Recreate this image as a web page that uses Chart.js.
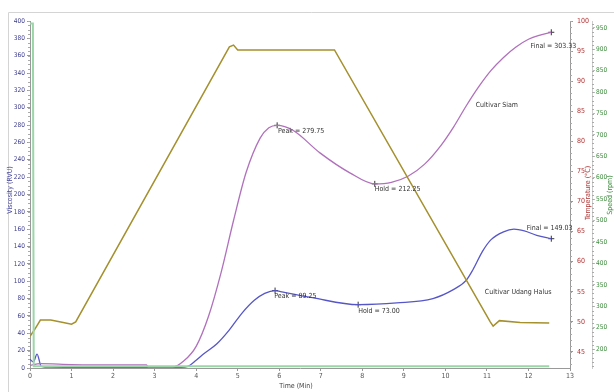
<!DOCTYPE html>
<html>
<head>
<meta charset="utf-8">
<script src="https://cdn.jsdelivr.net/npm/chart.js@4.4.1/dist/chart.umd.min.js"></script>
<style>
  html, body { margin: 0; padding: 0; background: #fff; }
  #wrap { width: 614px; height: 392px; }
</style>
</head>
<body>
<div id="wrap"><canvas id="rva" width="614" height="392"></canvas></div>
<script>
// Tick labels
const timeTicks = [0, 1, 2, 3, 4, 5, 6, 7, 8, 9, 10, 11, 12, 13];
const tempTicks = [45, 50, 55, 60, 65, 70, 75, 80, 85, 90, 95, 100];
const speedTicks = [200, 250, 300, 350, 400, 450, 500, 550, 600, 650, 700, 750, 800, 850, 900, 950];

// Temperature profile (°C)
const tempTime = [0, 0.1, 0.25, 0.5, 0.8, 1.0, 1.1, 4.8, 4.9, 5.0, 7.33, 11.08, 11.15, 11.3, 11.8, 12.5];
const tempValues = [47.6, 48.6, 50.3, 50.3, 49.9, 49.6, 50.0, 95.7, 96.0, 95.2, 95.2, 50.0, 49.3, 50.2, 49.9, 49.8];

// Paddle speed (rpm)
const speedTime = [0, 0.07, 0.09, 12.5];
const speedValues = [960, 960, 160, 160];

// Cultivar Siam viscosity (RVU)
const siamTime = [0, 0.25, 1, 2, 2.8, 2.85, 3.43, 3.7, 4.0, 4.3, 4.6, 4.9, 5.2, 5.54, 5.75, 5.95, 6.33, 6.98, 7.7, 8.3, 8.7, 9.1, 9.5, 9.9, 10.2, 10.5, 10.8, 11.1, 11.4, 11.7, 12.0, 12.3, 12.55];
const siamValues = [3, 5, 4, 3.5, 3.5, 1, 1, 8, 25, 60, 110, 170, 225, 265, 277, 279.75, 274, 248, 225, 212.25, 214, 221, 235, 257, 278, 302, 324, 343, 358, 370, 379, 384, 387];

// Cultivar Udang Halus viscosity (RVU)
const udangTime = [0, 0.08, 0.17, 0.27, 0.5, 2, 3.5, 3.8, 4.0, 4.2, 4.5, 4.8, 5.1, 5.4, 5.65, 5.9, 6.03, 6.8, 7.9, 8.83, 9.7, 10.18, 10.5, 10.66, 10.9, 11.1, 11.4, 11.65, 11.9, 12.2, 12.55];
const udangValues = [10, 7, 16, 2, 1, 0.5, 0.5, 2, 9, 17, 28, 44, 63, 78, 86, 89.25, 88, 81, 73, 75, 80, 90, 101, 113, 135, 148, 157, 160, 158, 153, 149.03];

// Peak / hold / final markers
const markerTime = [5.95, 8.3, 12.55, 5.9, 7.9, 12.55];
const markerValues = [279.75, 212.25, 387, 89.25, 73, 149.03];

// Text notes, anchored in data units (time, RVU)
const notes = [
  { text: 'Peak = 279.75', t: 5.97, v: 273 },
  { text: 'Hold = 212.25', t: 8.3, v: 206 },
  { text: 'Final = 303.33', t: 12.05, v: 371 },
  { text: 'Cultivar Siam', t: 10.73, v: 303 },
  { text: 'Peak = 89.25', t: 5.88, v: 83 },
  { text: 'Hold = 73.00', t: 7.9, v: 65.7 },
  { text: 'Final = 149.03', t: 11.96, v: 161 },
  { text: 'Cultivar Udang Halus', t: 10.95, v: 87.6 }
];

const pts = (xs, ys) => xs.map((x, i) => ({ x, y: ys[i] }));
const FONT = "'DejaVu Sans Condensed', 'Liberation Sans Narrow', Arial, sans-serif";
const small = { family: FONT, size: 7 };
const tiny = { family: FONT, size: 6.5 };

// frame, minor ticks, axis titles and notes
const decor = {
  id: 'decor',
  beforeDraw(chart) {
    const ctx = chart.ctx;
    ctx.save();
    ctx.strokeStyle = '#d4d4d4';
    ctx.lineWidth = 1;
    ctx.beginPath();
    ctx.moveTo(8.5, 392);
    ctx.lineTo(8.5, 12.5);
    ctx.lineTo(614, 12.5);
    ctx.stroke();
    ctx.restore();
  },
  afterDraw(chart) {
    const ctx = chart.ctx;
    const s = chart.scales;
    ctx.save();
    // minor ticks
    ctx.strokeStyle = '#aaa';
    ctx.lineWidth = 1;
    ctx.beginPath();
    for (let v = 0; v <= 400; v += 5) {
      const y = Math.round(s.yVisc.getPixelForValue(v)) + 0.5;
      ctx.moveTo(s.yVisc.right - 2, y); ctx.lineTo(s.yVisc.right, y);
    }
    for (let v = 43; v <= 100; v += 1) {
      const y = Math.round(s.yTemp.getPixelForValue(v)) + 0.5;
      ctx.moveTo(s.yTemp.left, y); ctx.lineTo(s.yTemp.left + 2, y);
    }
    for (let v = 160; v <= 960; v += 10) {
      const y = Math.round(s.ySpeed.getPixelForValue(v)) + 0.5;
      ctx.moveTo(s.ySpeed.left, y); ctx.lineTo(s.ySpeed.left + 2, y);
    }
    ctx.stroke();

    // axis titles
    ctx.font = '7px ' + FONT;
    ctx.textAlign = 'center';
    ctx.textBaseline = 'middle';
    const vtitle = (txt, x, y, col) => {
      ctx.save();
      ctx.translate(x, y);
      ctx.rotate(-Math.PI / 2);
      ctx.fillStyle = col;
      ctx.fillText(txt, 0, 0);
      ctx.restore();
    };
    vtitle('Viscosity (RVU)', 10, 190, '#4848a0');
    vtitle('Temperature (°C)', 588, 193, '#b03434');
    vtitle('Speed (rpm)', 610, 195, '#3c8c3c');
    ctx.fillStyle = '#444';
    ctx.fillText('Time (Min)', 296, 386);

    // notes
    ctx.textAlign = 'left';
    ctx.fillStyle = '#333';
    notes.forEach(n => {
      ctx.fillText(n.text, s.x.getPixelForValue(n.t), s.yVisc.getPixelForValue(n.v));
    });
    ctx.restore();
  }
};

new Chart(document.getElementById('rva'), {
  type: 'line',
  data: {
    datasets: [
      {
        label: 'Speed',
        data: pts(speedTime, speedValues),
        yAxisID: 'ySpeed',
        borderColor: '#9ad6a8',
        borderWidth: 2,
        pointRadius: 0,
        tension: 0
      },
      {
        label: 'Temperature',
        data: pts(tempTime, tempValues),
        yAxisID: 'yTemp',
        borderColor: '#a5902e',
        borderWidth: 1.5,
        pointRadius: 0,
        tension: 0
      },
      {
        label: 'Cultivar Siam',
        data: pts(siamTime, siamValues),
        yAxisID: 'yVisc',
        borderColor: '#b070bc',
        borderWidth: 1.3,
        pointRadius: 0,
        cubicInterpolationMode: 'monotone'
      },
      {
        label: 'Cultivar Udang Halus',
        data: pts(udangTime, udangValues),
        yAxisID: 'yVisc',
        borderColor: '#5656c8',
        borderWidth: 1.3,
        pointRadius: 0,
        cubicInterpolationMode: 'monotone'
      },
      {
        label: 'Markers',
        data: pts(markerTime, markerValues),
        yAxisID: 'yVisc',
        showLine: false,
        pointStyle: 'cross',
        pointRadius: 3,
        pointBorderWidth: 1,
        pointBorderColor: '#333',
        borderColor: '#333'
      }
    ]
  },
  options: {
    responsive: false,
    animation: false,
    layout: { padding: { top: 21, left: 0, right: 0, bottom: 0 } },
    plugins: { legend: { display: false }, tooltip: { enabled: false } },
    scales: {
      x: {
        type: 'linear',
        min: 0,
        max: 13,
        afterBuildTicks: a => { a.ticks = timeTicks.map(v => ({ value: v })); },
        afterFit: a => { a.height = 24; },
        ticks: { color: '#555', font: small, padding: 1, maxRotation: 0 },
        grid: { drawOnChartArea: false, tickLength: 3, color: '#999' },
        border: { color: '#999' }
      },
      yVisc: {
        position: 'left',
        min: 0,
        max: 400,
        ticks: { stepSize: 20, color: '#3c3c90', font: tiny, padding: 2 },
        afterFit: a => { a.width = 30; },
        grid: { drawOnChartArea: false, tickLength: 3, color: '#999' },
        border: { color: '#999' }
      },
      yTemp: {
        position: 'right',
        weight: 0,
        min: 42.33,
        max: 100,
        afterBuildTicks: a => { a.ticks = tempTicks.map(v => ({ value: v })); },
        afterFit: a => { a.width = 22; },
        ticks: { color: '#b03434', font: small, padding: 4 },
        grid: { drawOnChartArea: false, tickLength: 3, color: '#999' },
        border: { color: '#999' }
      },
      ySpeed: {
        position: 'right',
        weight: 1,
        min: 155.8,
        max: 966,
        afterBuildTicks: a => { a.ticks = speedTicks.map(v => ({ value: v })); },
        afterFit: a => { a.width = 22; },
        ticks: { color: '#3c8c3c', font: tiny, padding: 1 },
        grid: { drawOnChartArea: false, tickLength: 3, color: '#bbb' },
        border: { color: '#ccc' }
      }
    }
  },
  plugins: [decor]
});
</script>
</body>
</html>
